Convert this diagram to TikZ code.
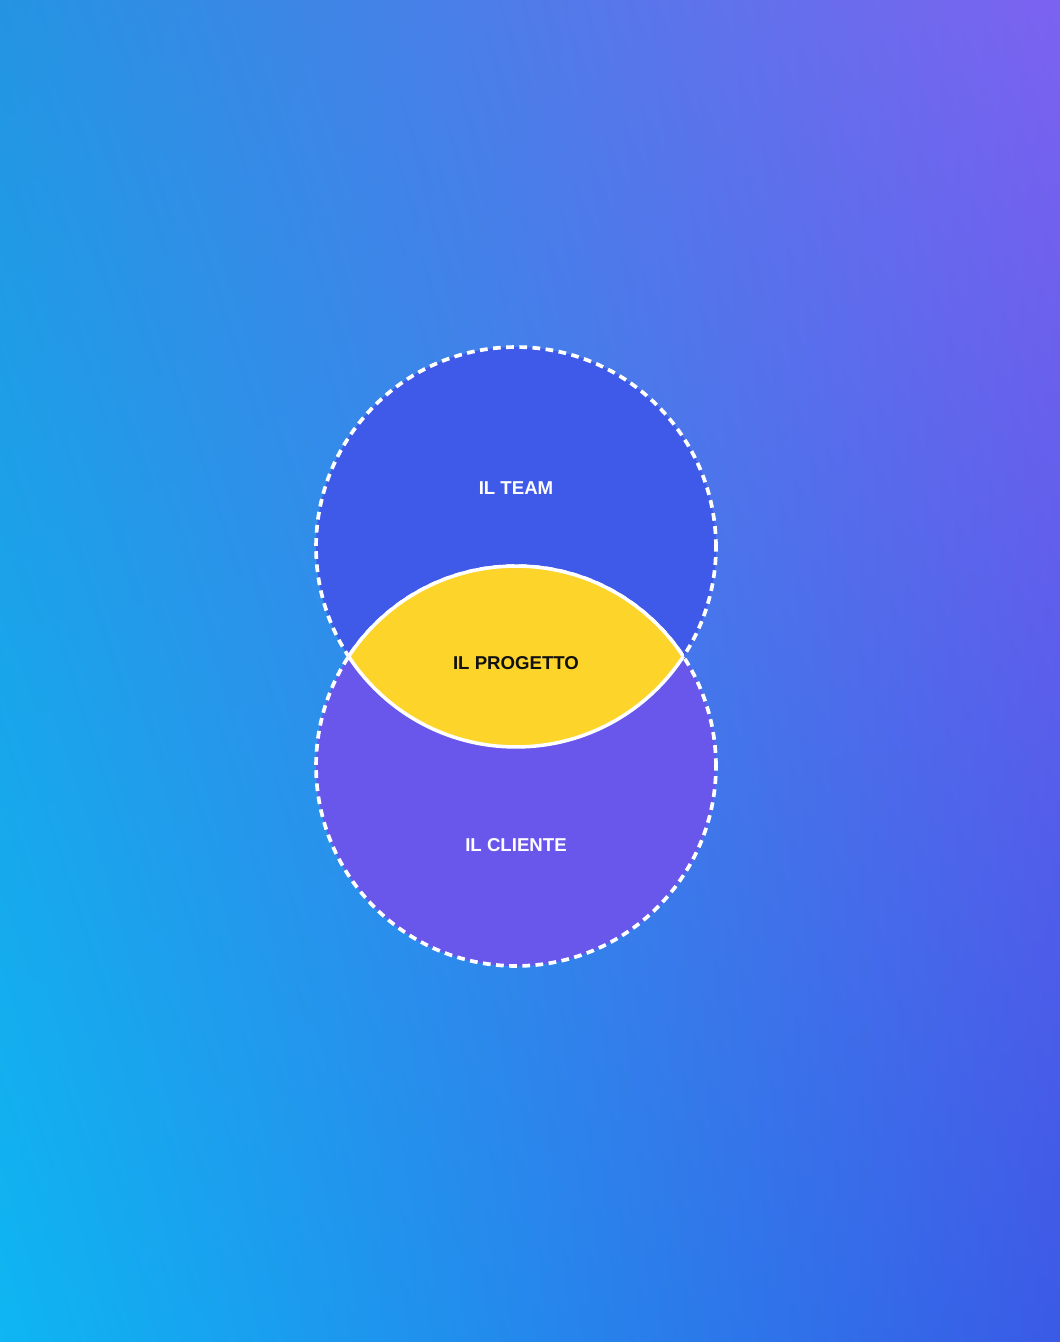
\documentclass[tikz,border=0pt]{standalone}
\usepackage{fontspec}
\setsansfont{Liberation Sans}
\usetikzlibrary{shadings}

\definecolor{bgul}{HTML}{2494E2}
\definecolor{bgur}{HTML}{7C62F0}
\definecolor{bgll}{HTML}{0EB6F2}
\definecolor{bglr}{HTML}{3A5AE6}
\definecolor{teamblue}{HTML}{3F5AE9}
\definecolor{clientviolet}{HTML}{6957EC}
\definecolor{progyellow}{HTML}{FDD42A}
\definecolor{inkblack}{HTML}{111111}

\tikzset{
  venncircle/.style = {circle,
                       draw = white,
                       line width = 2.1pt,
                       dash pattern = on 4.4pt off 3.1pt,
                       minimum size = 8cm,
                       inner sep = 0pt},
  vennlabel/.style = {font = \sffamily\bfseries\fontsize{10.6}{12}\selectfont}
}

\begin{document}
\begin{tikzpicture}[x=0.02cm,y=-0.02cm]

    % background
    \shade[upper left = bgul,
           upper right = bgur,
           lower left = bgll,
           lower right = bglr
           ] (0,0) rectangle (1060,1342);

    \node[venncircle,
          fill = teamblue
          ] (team) at (516,547) {};

    \node[venncircle,
          fill = clientviolet
          ] (cliente) at (516,766) {};

    % lens
    \begin{scope}
      \clip (team.center) circle[radius=4cm];
      \fill[progyellow] (cliente.center) circle[radius=4cm];
      \draw[white, line width=2pt] (cliente.center) circle[radius=4cm];
    \end{scope}
    \begin{scope}
      \clip (cliente.center) circle[radius=4cm];
      \draw[white, line width=2pt] (team.center) circle[radius=4cm];
    \end{scope}

    \node[vennlabel, text = white] (teamlab) at (516,488) {IL TEAM};
    \node[vennlabel, text = inkblack] (progetto) at (516,663) {IL PROGETTO};
    \node[vennlabel, text = white] (clientelab) at (516,845) {IL CLIENTE};

\end{tikzpicture}
\end{document}
